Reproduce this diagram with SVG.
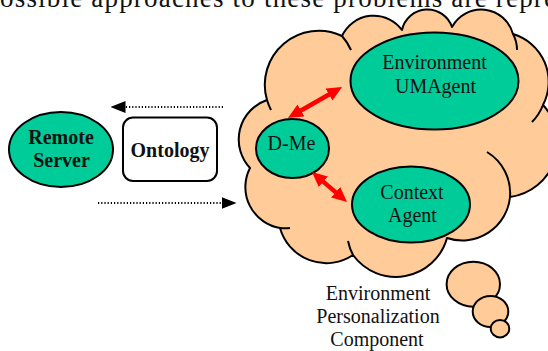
<svg xmlns="http://www.w3.org/2000/svg" width="548" height="351" viewBox="0 0 548 351">
  <style>
    .lbl { font-family: 'Liberation Serif', serif; font-size: 20px; fill: #111; text-anchor: middle; }
    .bold { font-weight: bold; }
    .agent { fill: #00CC99; stroke: #000; stroke-width: 2; }
    .puff { fill: #FFCC99; stroke: #000; stroke-width: 2; stroke-linejoin: round; }
    .tick { fill: none; stroke: #000; stroke-width: 2; }
    .dots { fill: none; stroke: #000; stroke-width: 2; stroke-dasharray: 1.2 2; }
    .link { fill: none; stroke: #FF0000; stroke-width: 4.5; }
  </style>
  <defs>
    <marker id="headBlack" markerUnits="userSpaceOnUse" viewBox="0 0 15 12" markerWidth="15" markerHeight="12" refX="0.5" refY="6" orient="auto-start-reverse">
      <path d="M0,0 L15,6 L0,12 Z" fill="#000"/>
    </marker>
    <marker id="headRed" markerUnits="userSpaceOnUse" viewBox="0 0 15 14" markerWidth="15" markerHeight="14" refX="1" refY="7" orient="auto-start-reverse">
      <path d="M0,0 L15,7 L0,14 Z" fill="#FF0000"/>
    </marker>
  </defs>

  <!-- running text line from the surrounding page -->
  <text x="0" y="7" font-family="'Liberation Serif', serif" font-size="27" fill="#111" textLength="556" lengthAdjust="spacing">ossible approaches to these problems are repre</text>

  <g font-family="'Liberation Serif', serif">
  <!-- Environment Personalization Component: cloud with thought bubbles -->
  <g id="node-epc">
    <path class="puff" d="M267,100 A54,54 0 0 1 342,36 A35,35 0 0 1 402,30 A26,26 0 0 1 452,27 A33,33 0 0 1 513,34 A50,50 0 0 1 543,105 A55,55 0 0 1 510,197 A48,48 0 0 1 447,238 A53,53 0 0 1 353,255 A48,48 0 0 1 280,228 A41.5,41.5 0 0 1 250,168 A41.7,41.7 0 0 1 267,100 Z"/>
    <path class="tick" d="M271,110 A54,54 0 0 1 267,100"/>
    <path class="tick" d="M342,36 A54,54 0 0 1 351,50"/>
    <path class="tick" d="M513,34 A33,33 0 0 1 517,50"/>
    <path class="tick" d="M543,105 A50,50 0 0 1 532,122"/>
    <path class="tick" d="M487,152 A48,48 0 0 1 510,197"/>
    <path class="tick" d="M353,255 A53,53 0 0 1 348,241"/>
    <path class="tick" d="M290,228 A41.5,41.5 0 0 1 280,228"/>
    <ellipse class="puff" cx="473.3" cy="284.2" rx="26.7" ry="22.5"/>
    <ellipse class="puff" cx="490.5" cy="311.5" rx="17.8" ry="15.5"/>
    <ellipse class="puff" cx="500" cy="328.7" rx="9.3" ry="8.7"/>
    <text class="lbl" x="378" y="300">Environment</text>
    <text class="lbl" x="378" y="323">Personalization</text>
    <text class="lbl" x="377" y="346">Component</text>
  </g>

  <g id="node-umagent">
    <ellipse class="agent" cx="434.5" cy="81" rx="84" ry="48.5"/>
    <text class="lbl" x="434.5" y="69">Environment</text>
    <text class="lbl" x="435.5" y="93">UMAgent</text>
  </g>

  <g id="node-dme">
    <ellipse class="agent" cx="292.5" cy="148.5" rx="36.5" ry="29.5"/>
    <text class="lbl" x="291.5" y="150">D-Me</text>
  </g>

  <g id="node-context">
    <ellipse class="agent" cx="411" cy="204.5" rx="59" ry="38"/>
    <text class="lbl" x="412" y="199">Context</text>
    <text class="lbl" x="412.5" y="222">Agent</text>
  </g>

  <g id="node-remote">
    <ellipse class="agent" cx="61" cy="149.5" rx="52" ry="37.5"/>
    <text class="lbl bold" x="61" y="144">Remote</text>
    <text class="lbl bold" x="61.5" y="167">Server</text>
  </g>

  <g id="node-ontology">
    <rect x="123" y="117.5" width="94" height="63.5" rx="10" ry="10" fill="#fff" stroke="#000" stroke-width="2"/>
    <text class="lbl bold" x="170" y="157">Ontology</text>
  </g>
  </g>

  <g id="connectors">
    <line class="dots" x1="223" y1="107" x2="125" y2="107" marker-end="url(#headBlack)"/>
    <line class="dots" x1="98" y1="203" x2="222" y2="203" marker-end="url(#headBlack)"/>
    <line class="link" x1="300.1" y1="111" x2="329.9" y2="94" marker-start="url(#headRed)" marker-end="url(#headRed)"/>
    <line class="link" x1="322.6" y1="181.1" x2="336.4" y2="192.9" marker-start="url(#headRed)" marker-end="url(#headRed)"/>
  </g>
</svg>
